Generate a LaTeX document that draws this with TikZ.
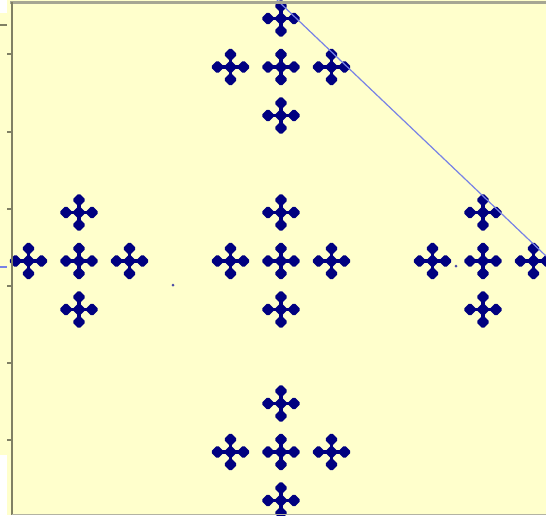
\documentclass[tikz,border=0pt]{standalone}
\definecolor{bg}{RGB}{255,255,204}
\definecolor{navy}{RGB}{0,0,128}
\definecolor{axg}{RGB}{128,128,100}
\definecolor{lnb}{RGB}{120,130,230}
\tikzset{
  pics/minicross/.style={code={
    \draw[navy, line width=3.6pt] (-13,0)--(13,0) (0,-12.5)--(0,12.5);
    \foreach \dx/\dy in {0/0,13/0,-13/0,0/12.5,0/-12.5}
      \fill[navy, rounded corners=1.8pt] (\dx-6.8,\dy)--(\dx,\dy-6.8)--(\dx+6.8,\dy)--(\dx,\dy+6.8)--cycle;
  }},
  axisline/.style={draw=axg, line width=2pt},
  tickmark/.style={draw=axg, line width=1.2pt}
}
\begin{document}
\begin{tikzpicture}[x=1pt,y=-1pt]
\useasboundingbox (0,0) rectangle (546,515);
\fill[white] (0,0) rectangle (546,515);
\fill[bg] (7,0) rectangle (546,515);
\fill[bg] (0,13) rectangle (7,455);
\begin{scope}
\clip (0,0) rectangle (546,515);
\foreach \cx/\cy in {281/261, 79/261, 483/261, 281/67, 281/452}
  \foreach \ox/\oy in {0/0, 50.5/0, -50.5/0, 0/48.5, 0/-48.5}
    \pic at (\cx+\ox,\cy+\oy) {minicross};
\fill[navy!70] (173,285) circle (1.5);
\fill[navy!70] (456,266) circle (1.5);
\draw[lnb, line width=1.2pt] (277,0) -- (546,256);
\end{scope}
\draw[axg!70, line width=3pt] (10,2) -- (546,2);
\draw[axisline] (11.5,2) -- (11.5,515);
\draw[axg!60, line width=1pt] (11.5,514.5) -- (546,514.5);
\foreach \ty in {54,132,209,286,363,440}
  \draw[tickmark] (7,\ty) -- (11,\ty);
\draw[tickmark] (0,25) -- (7,25);
\draw[lnb, line width=1.2pt] (0,267) -- (7,267);
\end{tikzpicture}
\end{document}
